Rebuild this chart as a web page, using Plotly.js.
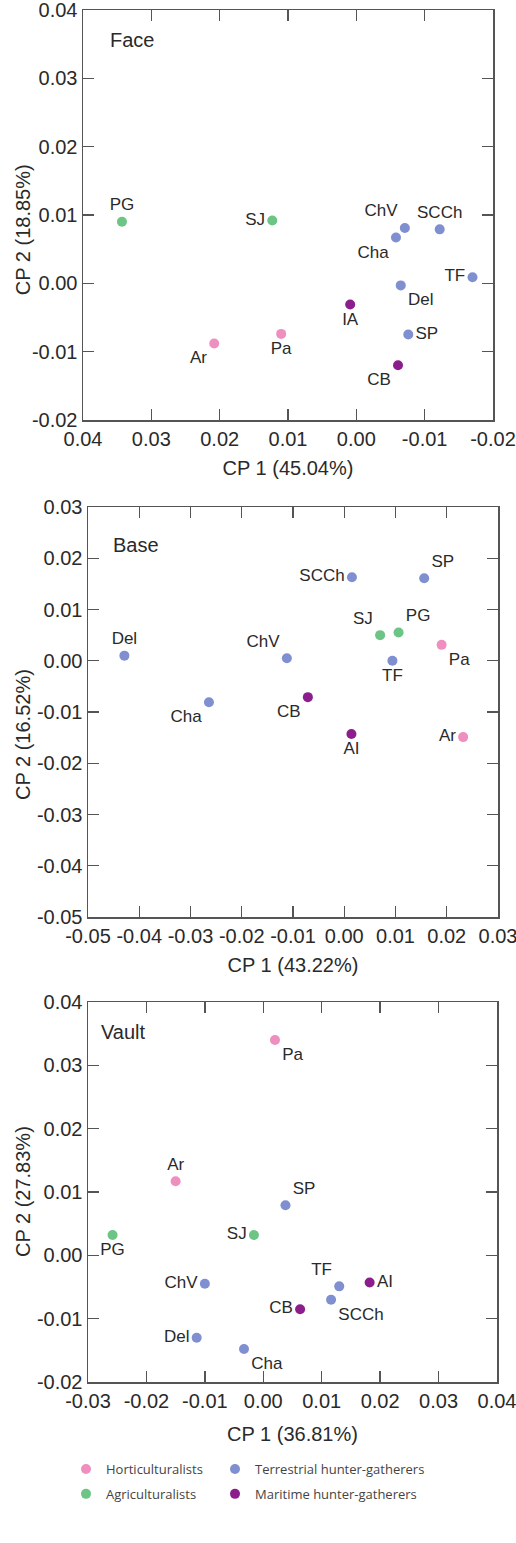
<!DOCTYPE html>
<html>
<head>
<meta charset="utf-8">
<script src="https://cdn.plot.ly/plotly-3.0.1.min.js"></script>
<style>html,body{margin:0;padding:0;background:#fff;}#chart{width:516px;height:1543px;}</style>
</head>
<body>
<div id="chart"></div>
<script>
// ---------- data ----------
const groupNames = ["Horticulturalists", "Agriculturalists", "Terrestrial hunter-gatherers", "Maritime hunter-gatherers"];
const groupColors = ["#ee8fbf", "#6cc485", "#7f8fd0", "#8b1e8c"];

// Face
const faceLabels = ["PG", "SJ", "ChV", "Cha", "SCCh", "TF", "Del", "IA", "Pa", "Ar", "SP", "CB"];
const faceGroup  = [1, 1, 2, 2, 2, 2, 2, 3, 0, 0, 2, 3];
const faceX = [0.0343, 0.0123, -0.0071, -0.0058, -0.0122, -0.0170, -0.0065, 0.0009, 0.0110, 0.0208, -0.0076, -0.0061];
const faceY = [0.0090, 0.0092, 0.0081, 0.0067, 0.0079, 0.0009, -0.0003, -0.0031, -0.0074, -0.0088, -0.0075, -0.0120];
const faceTextPos = ["top center", "middle left", "top left", "bottom left", "top center", "middle left", "bottom right", "bottom center", "bottom center", "bottom left", "middle right", "bottom left"];

// Base
const baseLabels = ["Del", "Cha", "ChV", "CB", "SCCh", "AI", "SJ", "PG", "TF", "SP", "Pa", "Ar"];
const baseGroup  = [2, 2, 2, 3, 2, 3, 1, 1, 2, 2, 0, 0];
const baseX = [-0.0429, -0.0264, -0.0112, -0.0071, 0.0015, 0.0014, 0.0070, 0.0106, 0.0094, 0.0156, 0.0190, 0.0232];
const baseY = [0.0010, -0.0081, 0.0005, -0.0071, 0.0163, -0.0143, 0.0050, 0.0055, 0.0000, 0.0161, 0.0031, -0.0149];
const baseTextPos = ["top center", "bottom left", "top left", "bottom left", "middle left", "bottom center", "top left", "top right", "bottom center", "top right", "bottom right", "middle left"];

// Vault
const vaultLabels = ["Pa", "Ar", "SP", "PG", "SJ", "ChV", "TF", "AI", "SCCh", "CB", "Del", "Cha"];
const vaultGroup  = [0, 0, 2, 1, 1, 2, 2, 3, 2, 3, 2, 2];
const vaultX = [0.0020, -0.0150, 0.0038, -0.0258, -0.0016, -0.0100, 0.0130, 0.0182, 0.0116, 0.0063, -0.0114, -0.0033];
const vaultY = [0.0340, 0.0117, 0.0079, 0.0032, 0.0032, -0.0045, -0.0049, -0.0043, -0.0070, -0.0085, -0.0130, -0.0148];
const vaultTextPos = ["bottom right", "top center", "top right", "bottom center", "middle left", "middle left", "top left", "middle right", "bottom right", "middle left", "middle left", "bottom right"];

// Axis tick values and labels
const faceXTicks = [0.04, 0.03, 0.02, 0.01, 0.00, -0.01, -0.02];
const faceXTickText = ["0.04", "0.03", "0.02", "0.01", "0.00", "-0.01", "-0.02"];
const faceYTicks = [-0.02, -0.01, 0.00, 0.01, 0.02, 0.03, 0.04];
const faceYTickText = ["-0.02", "-0.01", "0.00", "0.01", "0.02", "0.03", "0.04"];
const baseXTicks = [-0.05, -0.04, -0.03, -0.02, -0.01, 0.00, 0.01, 0.02, 0.03];
const baseXTickText = ["-0.05", "-0.04", "-0.03", "-0.02", "-0.01", "0.00", "0.01", "0.02", "0.03"];
const baseYTicks = [-0.05, -0.04, -0.03, -0.02, -0.01, 0.00, 0.01, 0.02, 0.03];
const baseYTickText = ["-0.05", "-0.04", "-0.03", "-0.02", "-0.01", "0.00", "0.01", "0.02", "0.03"];
const vaultXTicks = [-0.03, -0.02, -0.01, 0.00, 0.01, 0.02, 0.03, 0.04];
const vaultXTickText = ["-0.03", "-0.02", "-0.01", "0.00", "0.01", "0.02", "0.03", "0.04"];
const vaultYTicks = [-0.02, -0.01, 0.00, 0.01, 0.02, 0.03, 0.04];
const vaultYTickText = ["-0.02", "-0.01", "0.00", "0.01", "0.02", "0.03", "0.04"];

const panelNames = ["Face", "Base", "Vault"];
const xTitles = ["CP 1 (45.04%)", "CP 1 (43.22%)", "CP 1 (36.81%)"];
const yTitles = ["CP 2 (18.85%)", "CP 2 (16.52%)", "CP 2 (27.83%)"];

// ---------- build ----------
const panels = [
  {labels: faceLabels, group: faceGroup, x: faceX, y: faceY, tp: faceTextPos,
   xt: faceXTicks, xtt: faceXTickText, yt: faceYTicks, ytt: faceYTickText},
  {labels: baseLabels, group: baseGroup, x: baseX, y: baseY, tp: baseTextPos,
   xt: baseXTicks, xtt: baseXTickText, yt: baseYTicks, ytt: baseYTickText},
  {labels: vaultLabels, group: vaultGroup, x: vaultX, y: vaultY, tp: vaultTextPos,
   xt: vaultXTicks, xtt: vaultXTickText, yt: vaultYTicks, ytt: vaultYTickText}
];

const txtFamily = "Liberation Sans, Arial, sans-serif";
const tickFamily = "Liberation Sans Narrow, Arial Narrow, Liberation Sans, Arial, sans-serif";
const traces = [];
panels.forEach((p, pi) => {
  const ax = pi === 0 ? "" : String(pi + 1);
  groupNames.forEach((g, gi) => {
    const idx = p.group.map((v, i) => v === gi ? i : -1).filter(i => i >= 0);
    traces.push({
      type: "scatter",
      mode: "markers+text",
      x: idx.map(i => p.x[i]),
      y: idx.map(i => p.y[i]),
      text: idx.map(i => p.labels[i]),
      textposition: idx.map(i => p.tp[i]),
      textfont: {family: txtFamily, size: 17, color: "#2a2a2a"},
      marker: {color: groupColors[gi], size: 10, line: {width: 0}},
      name: g,
      legendgroup: g,
      xaxis: "x" + ax,
      yaxis: "y" + ax,
      showlegend: pi === 2,
      legend: gi < 2 ? "legend" : "legend2",
      cliponaxis: false,
      hoverinfo: "skip"
    });
  });
});

const axColor = "#555";
const tickFont = {family: tickFamily, size: 20, color: "#2a2a2a"};
const titleFont = {family: txtFamily, size: 20, color: "#2a2a2a"};
const eps = 1e-7;
function padRange(r) {
  return r[0] < r[1] ? [r[0] - eps, r[1] + eps] : [r[0] + eps, r[1] - eps];
}
function axis(range, domain, anchor, title, standoff, tv, tt) {
  const a = {
    range: padRange(range), domain: domain, anchor: anchor,
    tickmode: "array", tickvals: tv, ticktext: tt,
    ticks: "inside", ticklen: 11, tickwidth: 1.3, tickcolor: axColor,
    showline: true, linecolor: axColor, linewidth: 1.5, mirror: "ticks",
    showgrid: false, zeroline: false,
    tickfont: tickFont, ticklabeloverflow: "allow",
    automargin: false, fixedrange: true
  };
  if (title) a.title = {text: title, font: titleFont, standoff: standoff};
  return a;
}

const W = 516, H = 1543;
const dom = [
  {x: [83 / W, 493 / W], y: [1 - 420 / H, 1 - 10 / H]},
  {x: [88 / W, 498 / W], y: [1 - 917 / H, 1 - 507 / H]},
  {x: [88 / W, 497 / W], y: [1 - 1382 / H, 1 - 1002 / H]}
];
const xRanges = [[0.04, -0.02], [-0.05, 0.03], [-0.03, 0.04]];
const yRanges = [[-0.02, 0.04], [-0.05, 0.03], [-0.02, 0.04]];
const xTitleStandoff = [12, 12, 16];
const yTitleCenter = [0.463, 0.444, 0.5];
const legendFont = {family: "Open Sans, sans-serif", size: 13, color: "#444"};

const layout = {
  width: W, height: H,
  margin: {l: 0, r: 0, t: 0, b: 0},
  paper_bgcolor: "#fff", plot_bgcolor: "#fff",
  showlegend: true,
  legend: {x: 66 / W, y: 1 - 1454 / H, xanchor: "left", yanchor: "top", orientation: "v",
    font: legendFont, itemwidth: 30, tracegroupgap: 5, bgcolor: "rgba(0,0,0,0)"},
  legend2: {x: 215 / W, y: 1 - 1454 / H, xanchor: "left", yanchor: "top", orientation: "v",
    font: legendFont, itemwidth: 30, tracegroupgap: 5, bgcolor: "rgba(0,0,0,0)"},
  annotations: []
};

const panelLabelPos = [[0.061, 0.927], [0.056, 0.907], [0.027, 0.921]];
for (let i = 0; i < 3; i++) {
  const s = i === 0 ? "" : String(i + 1);
  const p = panels[i];
  layout["xaxis" + s] = axis(xRanges[i], dom[i].x, "y" + s, xTitles[i], xTitleStandoff[i], p.xt, p.xtt);
  layout["yaxis" + s] = axis(yRanges[i], dom[i].y, "x" + s, null, 0, p.yt, p.ytt);
  layout.annotations.push({
    text: panelNames[i], xref: "x" + s + " domain", yref: "y" + s + " domain",
    x: panelLabelPos[i][0], y: panelLabelPos[i][1], xanchor: "left", yanchor: "middle",
    showarrow: false, font: {family: txtFamily, size: 20, color: "#2a2a2a"}
  });
  // y-axis title
  layout.annotations.push({
    text: yTitles[i], xref: "paper", yref: "y" + s + " domain",
    x: 23 / W, y: yTitleCenter[i], xanchor: "center", yanchor: "middle", textangle: -90,
    showarrow: false, font: titleFont
  });
}

Plotly.newPlot("chart", traces, layout, {staticPlot: true, displayModeBar: false});
</script>
</body>
</html>
